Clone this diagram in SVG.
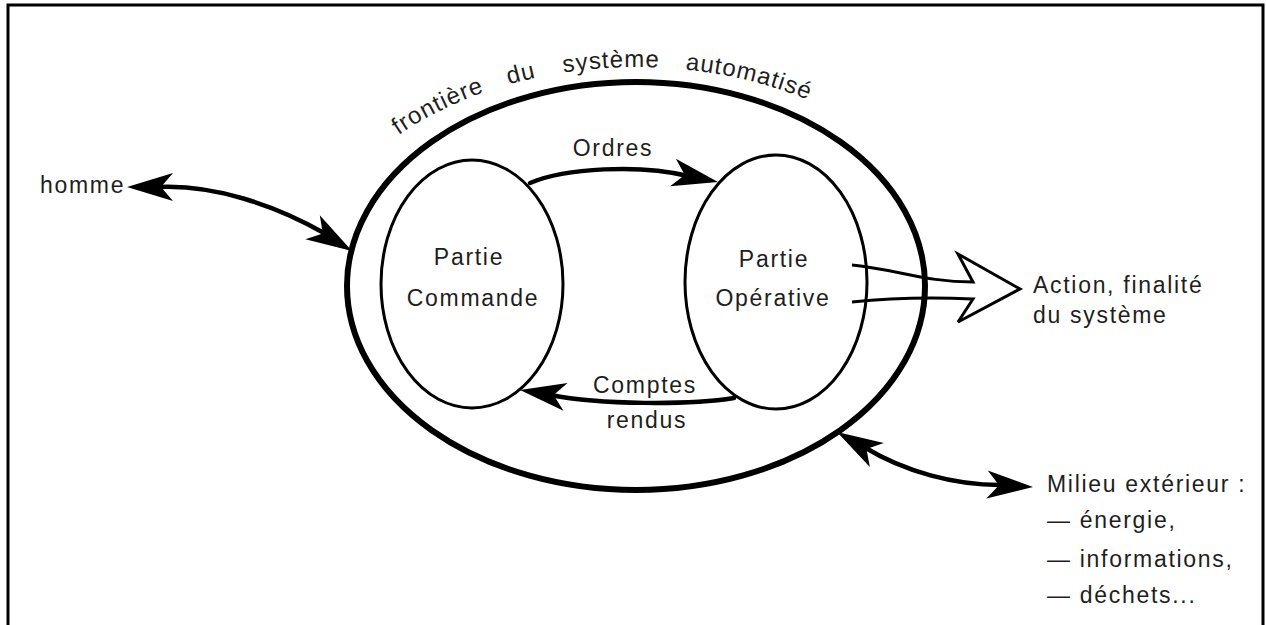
<svg xmlns="http://www.w3.org/2000/svg" xmlns:xlink="http://www.w3.org/1999/xlink" width="1266" height="625" viewBox="0 0 1266 625">
<style>
.t{font-family:"Liberation Sans",Arial,sans-serif;font-size:23px;fill:#1e1e1e;letter-spacing:1.7px}
.m{text-anchor:middle}
.arc{font-family:"Liberation Sans",Arial,sans-serif;font-size:24px;fill:#1e1e1e;letter-spacing:1px}
.outer{fill:none;stroke:#000;stroke-width:6}
.inner{fill:none;stroke:#000;stroke-width:3}
.con{fill:none;stroke:#000;stroke-width:4.5;stroke-linecap:round}
.hollow{fill:none;stroke:#000;stroke-width:3;stroke-linejoin:miter}
</style>
<defs>
<path id="head" d="M0,0 L-46,-14 L-34,0 L-46,14 Z" fill="#000"/>
<path id="arcpath" d="M296,307 A340,240 0 0 1 976,307"/>
</defs>
<rect x="0" y="0" width="1266" height="625" fill="#fff"/>
<path d="M8,625 L8,5 L1263,5 L1263,625" fill="none" stroke="#000" stroke-width="3"/>

<g id="systeme">
<ellipse class="outer" cx="636" cy="286" rx="289" ry="204"/>
<text class="arc"><textPath href="#arcpath" startOffset="208">frontière</textPath></text>
<text class="arc"><textPath href="#arcpath" startOffset="330">du</textPath></text>
<text class="arc"><textPath href="#arcpath" startOffset="386">système</textPath></text>
<text class="arc"><textPath href="#arcpath" startOffset="508">automatisé</textPath></text>
</g>

<g id="partie-commande">
<ellipse class="inner" cx="472" cy="284" rx="91" ry="124"/>
<text class="t m" x="469" y="265">Partie</text>
<text class="t m" x="473" y="306">Commande</text>
</g>

<g id="partie-operative">
<ellipse class="inner" cx="776" cy="282" rx="91" ry="127"/>
<text class="t m" x="774" y="267">Partie</text>
<text class="t m" x="773" y="306">Opérative</text>
</g>

<g id="homme">
<text class="t" x="40" y="193">homme</text>
</g>

<g id="action">
<text class="t" x="1033" y="293">Action, finalité</text>
<text class="t" x="1033" y="323">du système</text>
</g>

<g id="milieu">
<text class="t" x="1047" y="492">Milieu extérieur :</text>
<text class="t" x="1047" y="528">— énergie,</text>
<text class="t" x="1047" y="567">— informations,</text>
<text class="t" x="1047" y="603">— déchets...</text>
</g>

<g id="connectors">
<path class="con" d="M530,183 C565,168 640,164 688,176"/>
<use href="#head" transform="translate(718,182) rotate(12)"/>
<text class="t m" x="613" y="156">Ordres</text>

<path class="con" d="M734,398 C690,405 600,405 551,395"/>
<use href="#head" transform="translate(520,390) rotate(188.5)"/>
<text class="t m" x="645" y="393">Comptes</text>
<text class="t m" x="647" y="428">rendus</text>

<path class="con" d="M160,187 C215,185 275,205 324,233"/>
<use href="#head" transform="translate(127,187) rotate(180)"/>
<use href="#head" transform="translate(352,251) rotate(31)"/>

<path class="con" d="M864,447 C905,472 955,485 1000,485"/>
<use href="#head" transform="translate(837,432) rotate(210)"/>
<use href="#head" transform="translate(1033,487) rotate(3)"/>

<path class="hollow" d="M852,265 C900,270 925,282 973,282 L958,254 L1020,289 L958,322 L973,299 C930,297 890,298 852,302"/>
</g>
</svg>
